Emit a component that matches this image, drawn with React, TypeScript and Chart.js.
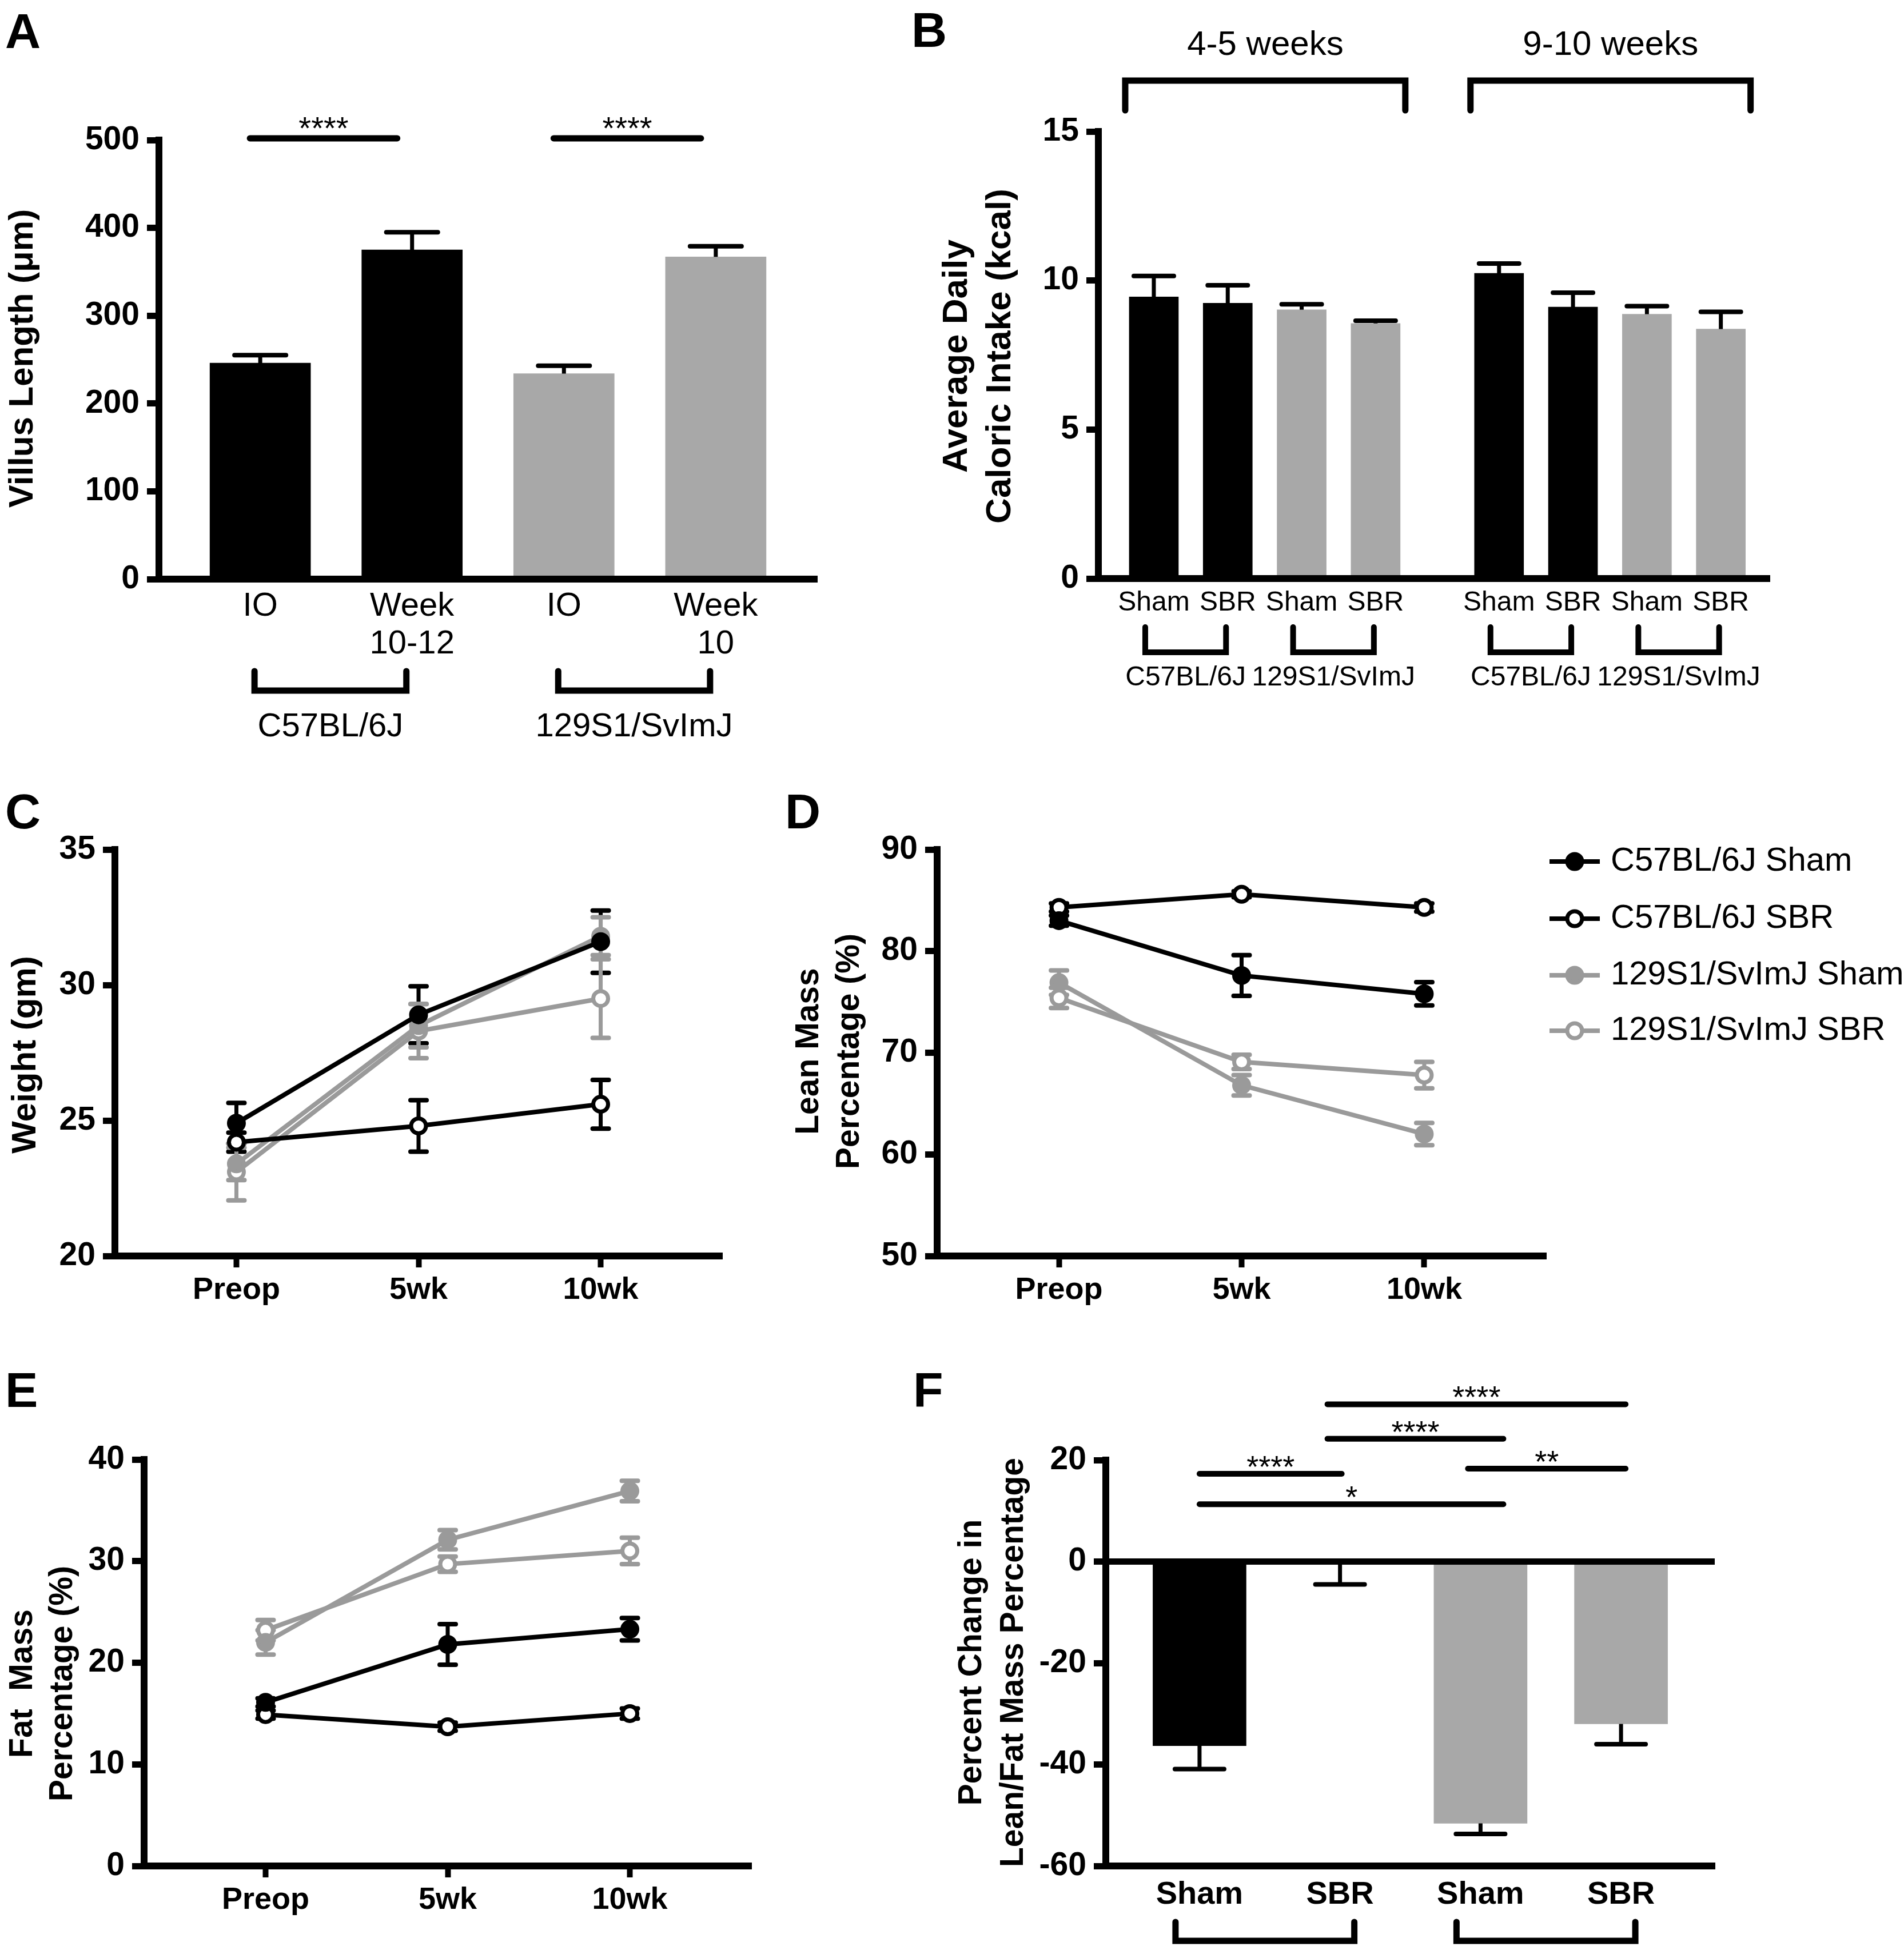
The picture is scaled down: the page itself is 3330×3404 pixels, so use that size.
import React, { useEffect, useRef } from 'react';
import { Chart, registerables } from 'chart.js';

Chart.register(...registerables);

const FONT = '"Liberation Sans", Arial, Helvetica, sans-serif';
const BLACK = '#000000';
const BAR_GRAY = '#a8a8a8';
const LINE_GRAY = '#9a9a9a';
const WHITE = '#ffffff';

// ---------------- Panel A : villus length ----------------
const villusLabels = [['IO'], ['Week', '10-12'], ['IO'], ['Week', '10']];
const villusStrain = ['C57BL/6J', 'C57BL/6J', '129S1/SvImJ', '129S1/SvImJ'];
const villusLength = [246, 375, 234, 367];
const villusSem = [9, 20, 9, 12];
const villusSigPairs = [[0, 1], [2, 3]];
const villusSigText = ['****', '****'];

// ---------------- Panel B : caloric intake ----------------
const intakePeriod = ['4-5 weeks', '4-5 weeks', '4-5 weeks', '4-5 weeks', '9-10 weeks', '9-10 weeks', '9-10 weeks', '9-10 weeks'];
const intakeLabels = ['Sham', 'SBR', 'Sham', 'SBR', 'Sham', 'SBR', 'Sham', 'SBR'];
const intakeStrain = ['C57BL/6J', 'C57BL/6J', '129S1/SvImJ', '129S1/SvImJ', 'C57BL/6J', 'C57BL/6J', '129S1/SvImJ', '129S1/SvImJ'];
const intakeKcal = [9.45, 9.24, 9.02, 8.56, 10.24, 9.11, 8.87, 8.37];
const intakeSem = [0.7, 0.6, 0.18, 0.09, 0.33, 0.48, 0.27, 0.58];

// ---------------- Panels C, D, E : time courses ----------------
const timepoints = ['Preop', '5wk', '10wk'];
const groupNames = ['C57BL/6J Sham', 'C57BL/6J SBR', '129S1/SvImJ Sham', '129S1/SvImJ SBR'];

const weightC57Sham = [24.9, 28.9, 31.6];
const weightC57SBR = [24.2, 24.8, 25.6];
const weight129Sham = [23.4, 28.5, 31.8];
const weight129SBR = [23.1, 28.3, 29.5];
const weightC57ShamSem = [0.75, 1.05, 1.15];
const weightC57SBRSem = [0.35, 0.95, 0.9];
const weight129ShamSem = [0.6, 0.8, 0.7];
const weight129SBRSem = [1.05, 1.0, 1.45];

const leanC57Sham = [83.0, 77.6, 75.8];
const leanC57SBR = [84.3, 85.6, 84.3];
const lean129Sham = [76.9, 66.8, 62.0];
const lean129SBR = [75.4, 69.1, 67.8];
const leanC57ShamSem = [0.5, 2.0, 1.15];
const leanC57SBRSem = [0.4, 0.3, 0.4];
const lean129ShamSem = [1.2, 1.0, 1.1];
const lean129SBRSem = [1.0, 0.7, 1.3];

const fatC57Sham = [16.1, 21.8, 23.3];
const fatC57SBR = [14.9, 13.7, 15.0];
const fat129Sham = [22.0, 32.1, 36.9];
const fat129SBR = [23.2, 29.7, 31.0];
const fatC57ShamSem = [0.4, 2.0, 1.1];
const fatC57SBRSem = [0.4, 0.4, 0.5];
const fat129ShamSem = [1.2, 0.95, 1.0];
const fat129SBRSem = [1.0, 0.75, 1.3];

// ---------------- Panel F : percent change ----------------
const changeLabels = ['Sham', 'SBR', 'Sham', 'SBR'];
const changeStrain = ['C57BL/6J', 'C57BL/6J', '129S1/SvImJ', '129S1/SvImJ'];
const changePct = [-36.3, -0.5, -51.6, -32.0];
const changeSem = [4.6, 4.0, 2.1, 4.0];
const changeSigPairs = [[1, 3], [1, 2], [0, 1], [2, 3], [0, 2]];
const changeSigLevel = [31.0, 24.2, 17.3, 18.3, 11.3];
const changeSigText = ['****', '****', '****', '**', '*'];

// ---------------- layout ----------------
type Box = { left: number; top: number; width: number; height: number };
type Area = { l: number; t: number; r: number; b: number };

const BOX: Record<string, Box> = {
  A: { left: 0, top: 0, width: 1560, height: 1340 },
  B: { left: 1560, top: 0, width: 1770, height: 1340 },
  C: { left: 0, top: 1340, width: 1360, height: 1040 },
  D: { left: 1360, top: 1340, width: 1970, height: 1040 },
  E: { left: 0, top: 2380, width: 1540, height: 1024 },
  F: { left: 1540, top: 2380, width: 1790, height: 1024 },
};
const AREA: Record<string, Area> = {
  A: { l: 278, t: 245, r: 1429, b: 1013 },
  B: { l: 1921, t: 230, r: 3095, b: 1012 },
  C: { l: 201, t: 1486, r: 1263, b: 2197 },
  D: { l: 1639, t: 1486, r: 2704, b: 2197 },
  E: { l: 252, t: 2553, r: 1314, b: 3264 },
  F: { l: 1934, t: 2554, r: 2999, b: 3264 },
};

function frame(key: string) {
  const box = BOX[key];
  const a = AREA[key];
  return {
    padding: { left: 0, top: a.t - box.top, right: box.left + box.width - a.r, bottom: 0 },
    yWidth: a.l - box.left,
    xHeight: box.top + box.height - a.b,
  };
}

function runs(keys: string[]) {
  const out: { name: string; first: number; last: number }[] = [];
  keys.forEach((k, i) => {
    const last = out[out.length - 1];
    if (last && last.name === k && last.last === i - 1) last.last = i;
    else out.push({ name: k, first: i, last: i });
  });
  return out;
}

function strainColor(s: string) {
  return s === 'C57BL/6J' ? BLACK : BAR_GRAY;
}

// ---------------- drawing helpers ----------------
function drawLine(ctx: any, x1: number, y1: number, x2: number, y2: number, w: number, cap = 'round', color = BLACK) {
  ctx.save();
  ctx.strokeStyle = color;
  ctx.lineWidth = w;
  ctx.lineCap = cap;
  ctx.beginPath();
  ctx.moveTo(x1, y1);
  ctx.lineTo(x2, y2);
  ctx.stroke();
  ctx.restore();
}
function drawText(ctx: any, s: string, x: number, y: number, size: number, weight = 'normal', align = 'center', baseline = 'alphabetic') {
  ctx.save();
  ctx.fillStyle = BLACK;
  ctx.font = `${weight} ${size}px ${FONT}`;
  ctx.textAlign = align;
  ctx.textBaseline = baseline;
  ctx.fillText(s, x, y);
  ctx.restore();
}
function drawVText(ctx: any, lines: string[], xs: number[], cy: number, size: number) {
  lines.forEach((s, i) => {
    ctx.save();
    ctx.translate(xs[i], cy);
    ctx.rotate(-Math.PI / 2);
    ctx.fillStyle = BLACK;
    ctx.font = `bold ${size}px ${FONT}`;
    ctx.textAlign = 'center';
    ctx.textBaseline = 'middle';
    ctx.fillText(s, 0, 0);
    ctx.restore();
  });
}
function drawBracket(ctx: any, x1: number, x2: number, yEnd: number, yBar: number, w: number) {
  ctx.save();
  ctx.strokeStyle = BLACK;
  ctx.lineWidth = w;
  ctx.lineCap = 'round';
  ctx.lineJoin = 'miter';
  ctx.beginPath();
  ctx.moveTo(x1, yEnd);
  ctx.lineTo(x1, yBar);
  ctx.lineTo(x2, yBar);
  ctx.lineTo(x2, yEnd);
  ctx.stroke();
  ctx.restore();
}
function drawLetter(ctx: any, s: string, x: number, y: number) {
  drawText(ctx, s, x, y, 86, 'bold', 'left', 'alphabetic');
}
function redrawAxes(chart: any) {
  const { ctx, chartArea: ca } = chart;
  drawLine(ctx, ca.left - 6, ca.bottom, ca.right, ca.bottom, 12, 'butt');
  drawLine(ctx, ca.left, ca.top, ca.left, ca.bottom + 6, 12, 'butt');
}

function errorBars(sems: number[][], o: any) {
  const draw = (chart: any) => {
    const ctx = chart.ctx;
    const ys = chart.scales.y;
    chart.data.datasets.forEach((ds: any, di: number) => {
      const meta = chart.getDatasetMeta(di);
      meta.data.forEach((el: any, i: number) => {
        const raw = ds.data[i];
        const v = typeof raw === 'number' ? raw : raw.y;
        const e = sems[di][i];
        const ends = o.oneSided ? [v >= 0 ? v + e : v - e] : [v + e, v - e];
        const x = el.x;
        const y0 = ys.getPixelForValue(v);
        const color = o.color || ds.borderColor;
        ends.forEach((end: number) => {
          const y1 = ys.getPixelForValue(end);
          drawLine(ctx, x, y0, x, y1, o.stem, 'butt', color);
          drawLine(ctx, x - o.cap / 2, y1, x + o.cap / 2, y1, o.capLine, 'round', color);
        });
      });
    });
  };
  return o.before ? { id: 'errorBars', beforeDatasetsDraw: draw } : { id: 'errorBars', afterDatasetsDraw: draw };
}

// ---------------- axes ----------------
function yAxis(min: number, max: number, step: number, width: number) {
  return {
    type: 'linear',
    position: 'left',
    min,
    max,
    ticks: { stepSize: step, color: BLACK, padding: 13, font: { family: FONT, size: 57, weight: 'bold' } },
    grid: { display: true, drawOnChartArea: false, drawTicks: true, tickLength: 21, tickWidth: 11, tickColor: BLACK },
    border: { display: true, width: 12, color: BLACK },
    afterFit: (s: any) => {
      s.width = width;
    },
  };
}
function xAxis(min: number, max: number, positions: number[], labels: any[], o: any) {
  return {
    type: 'linear',
    position: 'bottom',
    min,
    max,
    offset: false,
    bounds: 'data',
    afterBuildTicks: (s: any) => {
      s.ticks = positions.map((v) => ({ value: v }));
    },
    ticks: {
      autoSkip: false,
      maxRotation: 0,
      minRotation: 0,
      color: BLACK,
      padding: o.padding,
      font: { family: FONT, size: o.size, weight: o.weight, lineHeight: o.lineHeight },
      callback: (_v: any, i: number) => labels[i],
    },
    grid: {
      display: true,
      offset: false,
      drawOnChartArea: false,
      drawTicks: !!o.tickLength,
      tickLength: o.tickLength || 0,
      tickWidth: 10,
      tickColor: BLACK,
    },
    border: { display: true, width: 12, color: BLACK },
    afterFit: (s: any) => {
      s.height = o.height;
    },
  };
}
function baseOptions(key: string, scales: any) {
  const f = frame(key);
  return {
    responsive: false,
    maintainAspectRatio: false,
    animation: false,
    devicePixelRatio: 1,
    events: [],
    layout: { padding: f.padding },
    plugins: { legend: { display: false }, tooltip: { enabled: false } },
    scales,
  };
}

// ---------------- line-chart datasets ----------------
const seriesLine = [BLACK, BLACK, LINE_GRAY, LINE_GRAY];
const seriesFill = [BLACK, WHITE, LINE_GRAY, WHITE];
const MARK_R = 13;
const MARK_BW = 7;
function lineDatasets(values: number[][]) {
  return values.map((vals, k) => ({
    label: groupNames[k],
    data: vals.map((y, i) => ({ x: i, y })),
    borderColor: seriesLine[k],
    backgroundColor: seriesFill[k],
    borderWidth: 8,
    pointRadius: MARK_R,
    pointHoverRadius: MARK_R,
    pointBorderWidth: MARK_BW,
    pointBackgroundColor: seriesFill[k],
    pointBorderColor: seriesLine[k],
    fill: false,
    tension: 0,
  }));
}
const timeX = timepoints.map((_, i) => i);
const timeAxisOpts = (key: string) => ({ size: 54, weight: 'bold', lineHeight: 1.2, padding: 8, tickLength: 20, height: frame(key).xHeight });

// ---------------- chart builders ----------------
function makeA(canvas: HTMLCanvasElement) {
  const f = frame('A');
  const xs = villusLabels.map((_, i) => i);
  const groups = runs(villusStrain);
  const plugin = {
    id: 'panelA',
    afterDatasetsDraw: (chart: any) => redrawAxes(chart),
    afterDraw: (chart: any) => {
      const { ctx, chartArea: ca } = chart;
      const sx = chart.scales.x;
      const sy = chart.scales.y;
      drawLetter(ctx, 'A', 9, 84);
      drawVText(ctx, ['Villus Length (\u03bcm)'], [40], 627, 60);
      const sigY = sy.getPixelForValue(502);
      villusSigPairs.forEach(([a, b], k) => {
        const x1 = sx.getPixelForValue(a) - 18;
        const x2 = sx.getPixelForValue(b) - 26;
        drawLine(ctx, x1, sigY, x2, sigY, 11);
        drawText(ctx, villusSigText[k], (x1 + x2) / 2, sigY + 1, 56);
      });
      groups.forEach((g) => {
        const x1 = sx.getPixelForValue(g.first) - 10;
        const x2 = sx.getPixelForValue(g.last) - 10;
        drawBracket(ctx, x1, x2, ca.bottom + 161, ca.bottom + 195, 11);
        drawText(ctx, g.name, (x1 + x2) / 2, ca.bottom + 275, 58);
      });
    },
  };
  return new Chart(canvas, {
    type: 'bar',
    data: {
      datasets: [
        {
          data: villusLength.map((y, i) => ({ x: xs[i], y })),
          backgroundColor: villusStrain.map(strainColor),
          borderWidth: 0,
          barThickness: 176,
        },
      ],
    },
    options: baseOptions('A', {
      x: xAxis(-0.667, 3.667, xs, villusLabels, { size: 58, weight: 'normal', lineHeight: 1.138, padding: 15, height: f.xHeight }),
      y: yAxis(0, 500, 100, f.yWidth),
    }),
    plugins: [errorBars([villusSem], { oneSided: true, color: BLACK, stem: 7, capLine: 8, cap: 90 }), plugin],
  } as any);
}

function makeB(canvas: HTMLCanvasElement) {
  const f = frame('B');
  const periods = runs(intakePeriod);
  const periodIdx = intakeLabels.map((_, i) => periods.findIndex((p) => i >= p.first && i <= p.last));
  const xs = intakeLabels.map((_, i) => i + periodIdx[i] * 0.67);
  const strains = runs(intakeStrain);
  const ox = BOX.B.left;
  const plugin = {
    id: 'panelB',
    afterDatasetsDraw: (chart: any) => redrawAxes(chart),
    afterDraw: (chart: any) => {
      const { ctx, chartArea: ca } = chart;
      const sx = chart.scales.x;
      drawLetter(ctx, 'B', 1594 - ox, 82);
      drawVText(ctx, ['Average Daily', 'Caloric Intake (kcal)'], [1674 - ox, 1750 - ox], 623, 62);
      periods.forEach((p) => {
        const x1 = sx.getPixelForValue(xs[p.first]) - 50;
        const x2 = sx.getPixelForValue(xs[p.last]) + 52;
        drawBracket(ctx, x1, x2, 193, 141, 11);
        drawText(ctx, p.name, (x1 + x2) / 2, 96, 60);
      });
      strains.forEach((g) => {
        const x1 = sx.getPixelForValue(xs[g.first]) - 15;
        const x2 = sx.getPixelForValue(xs[g.last]) - 3;
        drawBracket(ctx, x1, x2, ca.bottom + 85, ca.bottom + 129, 10);
        drawText(ctx, g.name, (x1 + x2) / 2, ca.bottom + 187, 48);
      });
    },
  };
  return new Chart(canvas, {
    type: 'bar',
    data: {
      datasets: [
        {
          data: intakeKcal.map((y, i) => ({ x: xs[i], y })),
          backgroundColor: intakeStrain.map(strainColor),
          borderWidth: 0,
          barThickness: 86,
        },
      ],
    },
    options: baseOptions('B', {
      x: xAxis(-0.75, 8.33, xs, intakeLabels, { size: 48, weight: 'normal', lineHeight: 1.2, padding: 14, height: f.xHeight }),
      y: yAxis(0, 15, 5, f.yWidth),
    }),
    plugins: [errorBars([intakeSem], { oneSided: true, color: BLACK, stem: 7, capLine: 8, cap: 70 }), plugin],
  } as any);
}

function makeLinePanel(key: string, canvas: HTMLCanvasElement, values: number[][], sems: number[][], yMin: number, yMax: number, step: number, extra: (chart: any) => void) {
  const f = frame(key);
  const plugin = {
    id: 'panel' + key,
    afterDatasetsDraw: (chart: any) => redrawAxes(chart),
    afterDraw: (chart: any) => extra(chart),
  };
  return new Chart(canvas, {
    type: 'line',
    data: { datasets: lineDatasets(values) },
    options: baseOptions(key, {
      x: xAxis(-0.667, 2.667, timeX, timepoints, timeAxisOpts(key)),
      y: yAxis(yMin, yMax, step, f.yWidth),
    }),
    plugins: [errorBars(sems, { before: true, stem: 7, capLine: 8, cap: 28 }), plugin],
  } as any);
}

function makeC(canvas: HTMLCanvasElement) {
  const oy = BOX.C.top;
  return makeLinePanel(
    'C',
    canvas,
    [weightC57Sham, weightC57SBR, weight129Sham, weight129SBR],
    [weightC57ShamSem, weightC57SBRSem, weight129ShamSem, weight129SBRSem],
    20,
    35,
    5,
    (chart) => {
      const ctx = chart.ctx;
      drawLetter(ctx, 'C', 9, 1449 - oy);
      drawVText(ctx, ['Weight (gm)'], [45], 1845 - oy, 60);
    }
  );
}

function makeD(canvas: HTMLCanvasElement) {
  const ox = BOX.D.left;
  const oy = BOX.D.top;
  const legendY = [1507, 1607, 1706, 1803];
  return makeLinePanel(
    'D',
    canvas,
    [leanC57Sham, leanC57SBR, lean129Sham, lean129SBR],
    [leanC57ShamSem, leanC57SBRSem, lean129ShamSem, lean129SBRSem],
    50,
    90,
    10,
    (chart) => {
      const ctx = chart.ctx;
      drawLetter(ctx, 'D', 1373 - ox, 1449 - oy);
      drawVText(ctx, ['Lean Mass', 'Percentage (%)'], [1415 - ox, 1486 - ox], 1839 - oy, 57);
      chart.data.datasets.forEach((ds: any, k: number) => {
        const y = legendY[k] - oy;
        drawLine(ctx, 2710 - ox, y, 2798 - ox, y, 8, 'butt', ds.borderColor);
        ctx.save();
        ctx.beginPath();
        ctx.arc(2754 - ox, y, MARK_R, 0, Math.PI * 2);
        ctx.fillStyle = ds.pointBackgroundColor;
        ctx.fill();
        ctx.lineWidth = MARK_BW;
        ctx.strokeStyle = ds.pointBorderColor;
        ctx.stroke();
        ctx.restore();
        drawText(ctx, ds.label, 2817 - ox, y, 58, 'normal', 'left', 'middle');
      });
    }
  );
}

function makeE(canvas: HTMLCanvasElement) {
  const oy = BOX.E.top;
  return makeLinePanel(
    'E',
    canvas,
    [fatC57Sham, fatC57SBR, fat129Sham, fat129SBR],
    [fatC57ShamSem, fatC57SBRSem, fat129ShamSem, fat129SBRSem],
    0,
    40,
    10,
    (chart) => {
      const ctx = chart.ctx;
      drawLetter(ctx, 'E', 9, 2461 - oy);
      drawVText(ctx, ['Fat  Mass', 'Percentage (%)'], [40, 110], 2945 - oy, 57);
    }
  );
}

function makeF(canvas: HTMLCanvasElement) {
  const f = frame('F');
  const ox = BOX.F.left;
  const oy = BOX.F.top;
  const xs = changeLabels.map((_, i) => i);
  const groups = runs(changeStrain);
  const plugin = {
    id: 'panelF',
    afterDatasetsDraw: (chart: any) => {
      redrawAxes(chart);
      const { ctx, chartArea: ca } = chart;
      const y0 = chart.scales.y.getPixelForValue(0);
      drawLine(ctx, ca.left, y0, ca.right, y0, 11, 'butt');
    },
    afterDraw: (chart: any) => {
      const { ctx, chartArea: ca } = chart;
      const sx = chart.scales.x;
      const sy = chart.scales.y;
      drawLetter(ctx, 'F', 1597 - ox, 2461 - oy);
      drawVText(ctx, ['Percent Change in', 'Lean/Fat Mass Percentage'], [1700 - ox, 1773 - ox], 2908 - oy, 57);
      changeSigPairs.forEach(([a, b], k) => {
        const x1 = sx.getPixelForValue(a) - (a === 0 ? 0 : 22);
        const x2 = sx.getPixelForValue(b) + (b === 1 ? 3 : b === 2 ? 40 : 8);
        const y = sy.getPixelForValue(changeSigLevel[k]);
        drawLine(ctx, x1, y, x2, y, 10);
        drawText(ctx, changeSigText[k], (x1 + x2) / 2, y + 6, 54);
      });
      groups.forEach((g) => {
        const x1 = sx.getPixelForValue(g.first) - 42;
        const x2 = sx.getPixelForValue(g.last) + 25;
        drawBracket(ctx, x1, x2, ca.bottom + 98, ca.bottom + 131, 11);
      });
    },
  };
  const fills = changeStrain.map((s, i) => (i % 2 === 1 && s === 'C57BL/6J' ? WHITE : strainColor(s)));
  return new Chart(canvas, {
    type: 'bar',
    data: {
      datasets: [
        {
          data: changePct.map((y, i) => ({ x: xs[i], y })),
          backgroundColor: fills,
          borderWidth: 0,
          barThickness: 163,
        },
      ],
    },
    options: baseOptions('F', {
      x: xAxis(-0.667, 3.667, xs, changeLabels, { size: 56, weight: 'bold', lineHeight: 1.2, padding: 17, height: f.xHeight }),
      y: yAxis(-60, 20, 20, f.yWidth),
    }),
    plugins: [errorBars([changeSem], { oneSided: true, color: BLACK, stem: 7, capLine: 8, cap: 86 }), plugin],
  } as any);
}

const KEYS = ['A', 'B', 'C', 'D', 'E', 'F'];
const MAKERS: Record<string, (c: HTMLCanvasElement) => any> = { A: makeA, B: makeB, C: makeC, D: makeD, E: makeE, F: makeF };

export default function App() {
  const refs = useRef<Record<string, HTMLCanvasElement | null>>({});
  useEffect(() => {
    Chart.defaults.font.family = FONT;
    const charts = KEYS.map((k) => MAKERS[k](refs.current[k] as HTMLCanvasElement));
    return () => charts.forEach((c) => c.destroy());
  }, []);
  return (
    <div style={{ position: 'absolute', left: 0, top: 0, width: 3330, height: 3404, background: '#ffffff', overflow: 'hidden' }}>
      {KEYS.map((k) => (
        <canvas
          key={k}
          ref={(el) => {
            refs.current[k] = el;
          }}
          width={BOX[k].width}
          height={BOX[k].height}
          style={{ position: 'absolute', left: BOX[k].left, top: BOX[k].top, width: BOX[k].width, height: BOX[k].height }}
        />
      ))}
    </div>
  );
}
